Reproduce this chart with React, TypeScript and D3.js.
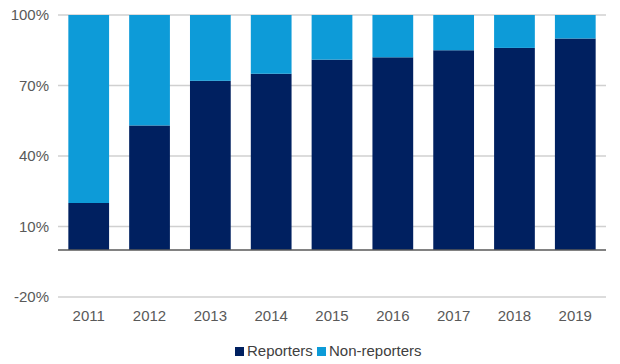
import { useRef, useEffect } from "react";
import * as d3 from "d3";

const years = ["2011", "2012", "2013", "2014", "2015", "2016", "2017", "2018", "2019"];
const reporters = [20, 53, 72, 75, 81, 82, 85, 86, 90];
const nonReporters = [80, 47, 28, 25, 19, 18, 15, 14, 10];
const yTicks = [-20, 10, 40, 70, 100];

const seriesNames = ["Reporters", "Non-reporters"];
const colors = ["#002060", "#0d9bd8"];

export default function App() {
  const svgRef = useRef<SVGSVGElement>(null);

  useEffect(() => {
    const width = 620;
    const height = 364;
    const margin = { top: 15, right: 14, bottom: 67, left: 58 };
    const font = "'Liberation Sans', Arial, sans-serif";

    const svg = d3.select(svgRef.current)
      .attr("width", width)
      .attr("height", height)
      .style("display", "block");
    svg.selectAll("*").remove();

    const x = d3.scaleBand().domain(years)
      .range([margin.left, width - margin.right])
      .paddingInner(0.33).paddingOuter(0.17);
    const y = d3.scaleLinear().domain([-20, 100])
      .range([height - margin.bottom, margin.top]);

    // gridlines
    svg.append("g").selectAll("line")
      .data(yTicks)
      .join("line")
      .attr("x1", margin.left)
      .attr("x2", width - margin.right)
      .attr("y1", d => y(d))
      .attr("y2", d => y(d))
      .attr("stroke", "#d0d0d0")
      .attr("stroke-width", 1.3);

    svg.append("g").selectAll("text")
      .data(yTicks)
      .join("text")
      .attr("x", margin.left - 9)
      .attr("y", d => y(d))
      .attr("dy", "0.35em")
      .attr("text-anchor", "end")
      .attr("font-family", font)
      .attr("font-size", 15)
      .attr("fill", "#595959")
      .text(d => `${d}%`);

    // stacked bars
    const rows = years.map((yr, i) => ({ year: yr, Reporters: reporters[i], "Non-reporters": nonReporters[i] }));
    const stacked = d3.stack<any>().keys(seriesNames)(rows);

    svg.append("g").selectAll("g")
      .data(stacked)
      .join("g")
      .attr("fill", (d, i) => colors[i])
      .selectAll("rect")
      .data(d => d)
      .join("rect")
      .attr("x", d => x(d.data.year)!)
      .attr("width", x.bandwidth())
      .attr("y", d => y(d[1]))
      .attr("height", d => y(d[0]) - y(d[1]));

    // zero baseline
    svg.append("line")
      .attr("x1", margin.left)
      .attr("x2", width - margin.right)
      .attr("y1", y(0))
      .attr("y2", y(0))
      .attr("stroke", "#595959")
      .attr("stroke-width", 1.5);

    // x labels
    svg.append("g").selectAll("text")
      .data(years)
      .join("text")
      .attr("x", d => x(d)! + x.bandwidth() / 2)
      .attr("y", 316)
      .attr("dy", "0.35em")
      .attr("text-anchor", "middle")
      .attr("font-family", font)
      .attr("font-size", 15)
      .attr("fill", "#595959")
      .text(d => d);

    // legend
    const legend = svg.append("g");
    const lx = [235, 317];
    seriesNames.forEach((name, i) => {
      legend.append("rect")
        .attr("x", lx[i])
        .attr("y", 347)
        .attr("width", 9)
        .attr("height", 9)
        .attr("fill", colors[i]);
      legend.append("text")
        .attr("x", lx[i] + 12)
        .attr("y", 351)
        .attr("dy", "0.35em")
        .attr("font-family", font)
        .attr("font-size", 15)
        .attr("fill", "#404040")
        .text(name);
    });
  }, []);

  return (
    <div style={{ position: "absolute", left: 0, top: 0 }}>
      <svg ref={svgRef}></svg>
    </div>
  );
}
